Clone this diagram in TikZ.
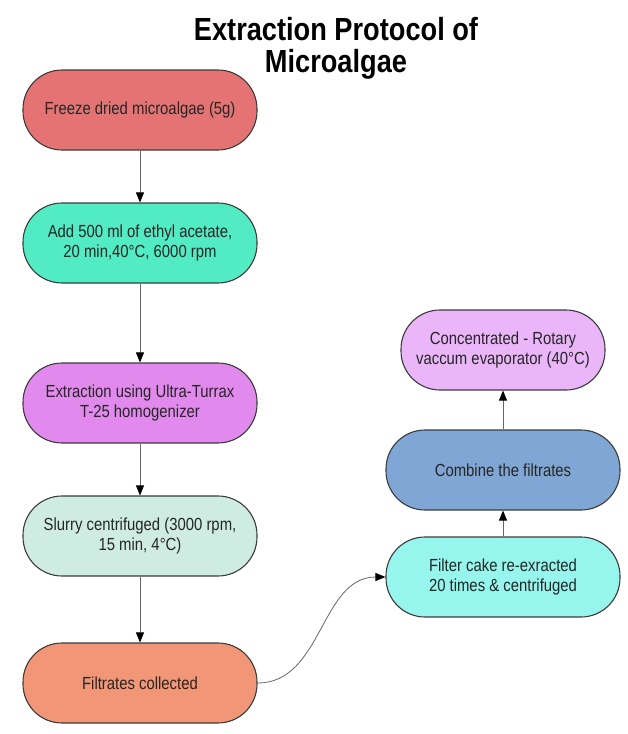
\documentclass[tikz,border=0pt]{standalone}
\usepackage{fontspec}
\setmainfont[FakeStretch=0.85]{Liberation Sans}
\usepackage{xcolor}
\definecolor{freezered}{RGB}{229, 115, 115}
\definecolor{acetategreen}{RGB}{82, 236, 196}
\definecolor{turraxviolet}{RGB}{225, 137, 236}
\definecolor{slurrymint}{RGB}{206, 236, 226}
\definecolor{filtratesalmon}{RGB}{241, 150, 118}
\definecolor{rotarylilac}{RGB}{234, 181, 249}
\definecolor{combineblue}{RGB}{127, 166, 212}
\definecolor{cakecyan}{RGB}{150, 245, 236}
\definecolor{edgegrey}{RGB}{60, 60, 60}
\usetikzlibrary{arrows.meta, positioning, calc}

\tikzset{
    stage/.style={rectangle, rounded corners=39pt, draw=edgegrey, line width=1.1pt,
                  minimum width=234pt, minimum height=80pt, align=center,
                  text=black!85, font=\fontsize{17.5}{20}\selectfont},
    flow/.style={-{Triangle[length=10pt, width=8pt, black]}, draw=black!60, line width=0.8pt}
}

\begin{document}
\begin{tikzpicture}[x=1pt, y=-1pt]
                    \useasboundingbox (0, 0) rectangle (627, 734);
                    % Title
                    \node[font=\fontsize{32}{32}\selectfont\bfseries, align=center, anchor=base] (title) at (336, 72) {Extraction Protocol of\\Microalgae};

                    % Left column - extraction steps
                    \node[stage, fill=freezered] (freeze) at (140, 110) {Freeze dried microalgae (5g)};
                    \node[stage, fill=acetategreen] (acetate) at (140, 243) {Add 500 ml of ethyl acetate,\\20 min,40°C, 6000 rpm};
                    \node[stage, fill=turraxviolet] (turrax) at (140, 403) {Extraction using Ultra-Turrax\\T-25 homogenizer};
                    \node[stage, fill=slurrymint] (slurry) at (140, 536) {Slurry centrifuged (3000 rpm,\\15 min, 4°C)};
                    \node[stage, fill=filtratesalmon] (filtrates) at (140, 683) {Filtrates collected};

                    % Right column - re-extraction and concentration
                    \node[stage, fill=cakecyan] (cake) at (503, 577) {Filter cake re-exracted\\20 times \& centrifuged};
                    \node[stage, fill=combineblue] (combine) at (503, 470) {Combine the filtrates};
                    \node[stage, fill=rotarylilac, minimum width=204pt] (rotary) at (503, 350) {Concentrated - Rotary\\vaccum evaporator (40°C)};

                    % Connectors
                    \draw[flow] (freeze) -- (acetate);
                    \draw[flow] (acetate) -- (turrax);
                    \draw[flow] (turrax) -- (slurry);
                    \draw[flow] (slurry) -- (filtrates);
                    \draw[flow] (filtrates.east) to[out=0, in=180] (cake.west);
                    \draw[flow] (cake) -- (combine);
                    \draw[flow] (combine) -- (rotary);
                \end{tikzpicture}
\end{document}
